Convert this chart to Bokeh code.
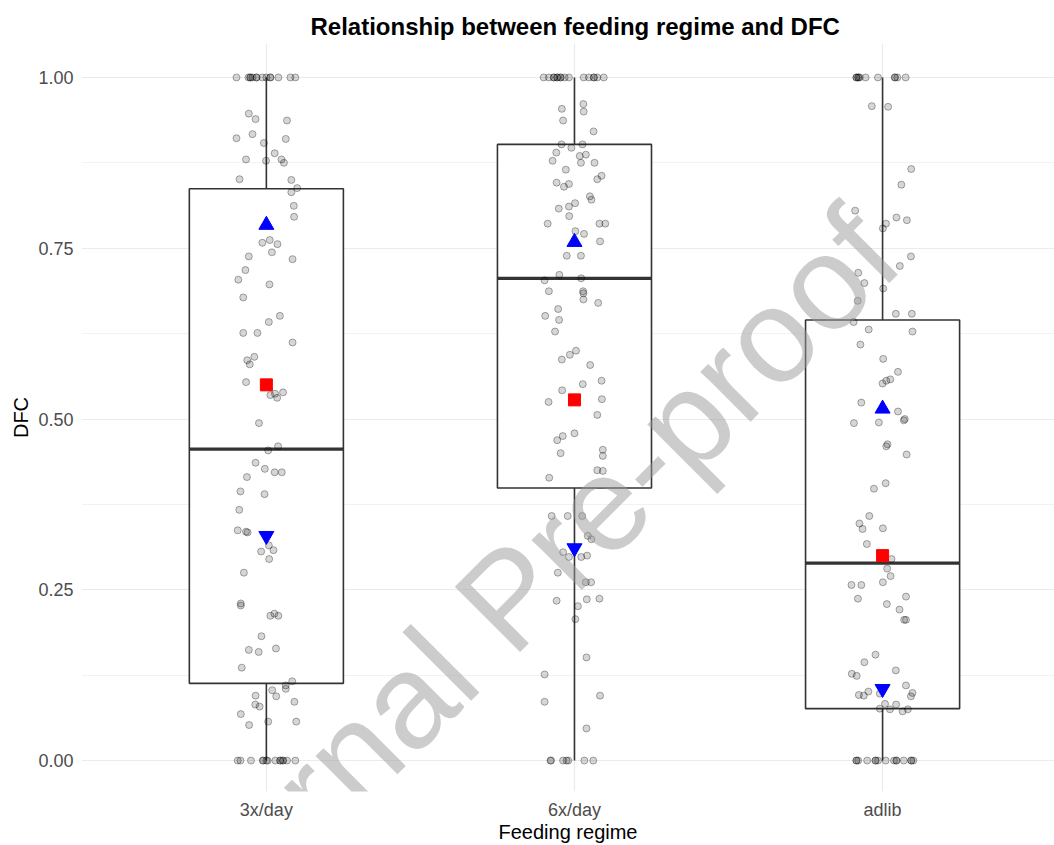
from bokeh.plotting import figure
from bokeh.models import FixedTicker, Label, Range1d, NumeralTickFormatter, Title
from bokeh.embed import file_html
from bokeh.resources import INLINE

# ---------------- data ----------------
categories = ["3x/day", "6x/day", "adlib"]
q1 = [0.113, 0.399, 0.076]
median = [0.456, 0.706, 0.289]
q3 = [0.837, 0.902, 0.645]
whisker_low = [0.0, 0.0, 0.0]
whisker_high = [1.0, 1.0, 1.0]
mean_val = [0.550, 0.528, 0.300]
upper_val = [0.784, 0.759, 0.515]
lower_val = [0.329, 0.311, 0.105]

y_ticks = [0.0, 0.25, 0.5, 0.75, 1.0]
y_minor = [0.125, 0.375, 0.625, 0.875]

# jittered observations: horizontal jitter (category units) and DFC value
jit_3x_dx = [-0.097, -0.058, -0.052, -0.045, -0.032, -0.013, 0.0, 0.013, 0.039, 0.078, 0.094,
             -0.052, -0.032, 0.013,
             -0.057, -0.035, 0.067, -0.097, -0.045, 0.063, -0.008, 0.027, -0.066, -0.001, 0.049,
             0.057, -0.087, 0.081, 0.100, 0.081, 0.089, 0.090, -0.013, 0.011, 0.036, 0.018,
             -0.057, 0.085, -0.068, -0.091, 0.010, -0.075, 0.044, 0.008, -0.075, -0.029, 0.085,
             -0.039, -0.062, -0.054, -0.066, 0.013, 0.035, 0.054, 0.028,
             -0.024, 0.038, 0.006, -0.035, -0.005, 0.027, 0.050, -0.063, -0.084, -0.006, -0.088,
             -0.093, -0.066, -0.061, 0.008, -0.017, 0.023, 0.009, -0.073, -0.083, -0.083, 0.013,
             0.026, 0.039, -0.016, -0.057, -0.025, 0.031, -0.080, 0.084, 0.063, 0.063, 0.019,
             -0.035, 0.032, -0.036, -0.022, 0.091, -0.083, 0.006, 0.097, -0.056,
             -0.093, -0.084, -0.050, -0.011, 0.0, 0.004, 0.029, 0.045, 0.054, 0.067, 0.094,
             -0.011, 0.045, 0.054]
jit_3x_y = [1.0] * 14 + \
           [0.947, 0.939, 0.937, 0.911, 0.917, 0.910, 0.904, 0.889, 0.880, 0.878, 0.880,
            0.875, 0.851, 0.850, 0.838, 0.832, 0.812, 0.796, 0.758, 0.762, 0.756, 0.744,
            0.738, 0.734, 0.718, 0.704, 0.697, 0.678, 0.651, 0.642, 0.626, 0.626, 0.612,
            0.591, 0.586, 0.580, 0.554, 0.535, 0.531, 0.539, 0.537,
            0.494, 0.460, 0.454, 0.436, 0.427, 0.422, 0.422, 0.415, 0.394, 0.390, 0.367,
            0.337, 0.335, 0.334, 0.315, 0.306, 0.308, 0.295, 0.275, 0.230, 0.227, 0.212,
            0.215, 0.212, 0.182, 0.162, 0.159, 0.164, 0.136, 0.116, 0.110, 0.105, 0.103,
            0.095, 0.094, 0.082, 0.079, 0.086, 0.068, 0.057, 0.057, 0.052] + \
           [0.0] * 14

jit_6x_dx = [-0.100, -0.083, -0.067, -0.056, -0.045, -0.032, -0.018, 0.030, 0.047, 0.063, 0.074, 0.095,
             -0.067, -0.056, -0.045, 0.063,
             0.029, -0.041, 0.030, -0.037, 0.062, -0.042, -0.010, 0.026, -0.059, 0.017, 0.037,
             -0.071, 0.021, 0.065, -0.028, 0.088, 0.074, -0.058, -0.034, -0.018, 0.050, 0.055,
             -0.051, -0.018, 0.002, -0.017, -0.087, 0.081, 0.100, 0.003, 0.031, 0.083, -0.025,
             0.021, -0.049, -0.097, 0.022, -0.083, 0.028, 0.029, 0.029, 0.077, -0.053, -0.095,
             -0.050, -0.063, 0.005, -0.015, -0.041, 0.051, 0.088, 0.027, -0.040, -0.084, 0.089,
             0.074, -0.056, -0.038, 0.0, -0.045, 0.092, 0.092, 0.074, 0.092, -0.082, -0.074,
             -0.022, 0.025, 0.043, 0.055, -0.037, -0.018, 0.022, 0.041, -0.054, 0.037, 0.054,
             -0.058, 0.040, 0.081, 0.011, 0.003, 0.039, -0.097, 0.083, -0.097, 0.039,
             -0.078, -0.076, -0.037, -0.026, -0.020, 0.032, 0.061]
jit_6x_y = [1.0] * 16 + \
           [0.961, 0.954, 0.950, 0.937, 0.921, 0.902, 0.897, 0.902, 0.890, 0.885, 0.887,
            0.878, 0.875, 0.875, 0.865, 0.856, 0.851, 0.846, 0.840, 0.844, 0.826, 0.821,
            0.808, 0.811, 0.816, 0.797, 0.786, 0.786, 0.786, 0.775, 0.771, 0.760, 0.739,
            0.739, 0.711, 0.703, 0.706, 0.687, 0.687, 0.684, 0.675, 0.670, 0.661, 0.651,
            0.645, 0.628, 0.600, 0.594, 0.587, 0.579, 0.556, 0.551, 0.542, 0.525, 0.529,
            0.506, 0.469, 0.475, 0.479, 0.450, 0.455, 0.446, 0.425, 0.424, 0.414, 0.358,
            0.358, 0.358, 0.329, 0.324, 0.305, 0.298, 0.298, 0.300, 0.275, 0.261, 0.261,
            0.234, 0.236, 0.237, 0.226, 0.207, 0.151, 0.126, 0.095, 0.086, 0.047] + \
           [0.0] * 7

jit_adlib_dx = [-0.085, -0.079, -0.074, -0.055, -0.015, 0.040, 0.048, 0.075,
                -0.085, -0.079, 0.040,
                -0.035, 0.018, 0.093, 0.061, -0.089, 0.045, 0.079, 0.011, 0.001, 0.092, 0.056,
                -0.079, -0.059, 0.002, -0.081, 0.043, 0.095, -0.094, -0.045, 0.097, -0.072,
                0.002, 0.050, 0.025, 0.012, 0.0, -0.069,
                0.050, -0.093, -0.012, 0.069, 0.072, 0.016, 0.012, 0.078, 0.010, -0.028, -0.043,
                -0.075, -0.065, 0.001, -0.051, 0.029, 0.015, 0.026, 0.001, -0.101, -0.069, 0.076,
                -0.080, 0.014, 0.055, 0.070, 0.076, -0.023, -0.059, 0.043, -0.100, -0.084, 0.076,
                -0.046, -0.077, -0.061, -0.009, 0.097, 0.092, 0.008, 0.044, -0.009, 0.024, 0.065,
                0.082,
                -0.085, -0.079, -0.050, -0.023, -0.015, 0.010, 0.037, 0.045, 0.069, 0.093, 0.100,
                -0.085, -0.023, 0.045, 0.093]
jit_adlib_y = [1.0] * 11 + \
              [0.958, 0.957, 0.866, 0.843, 0.805, 0.795, 0.791, 0.786, 0.779, 0.738, 0.724,
               0.714, 0.699, 0.691, 0.673, 0.654, 0.654, 0.642, 0.631, 0.628, 0.609,
               0.588, 0.569, 0.558, 0.556, 0.552, 0.524,
               0.511, 0.494, 0.495, 0.498, 0.500, 0.463, 0.460, 0.448, 0.406, 0.398, 0.358,
               0.347, 0.339, 0.340, 0.317, 0.295, 0.281, 0.270, 0.261, 0.257, 0.257, 0.240,
               0.237, 0.229, 0.221, 0.206, 0.206, 0.155, 0.144, 0.132, 0.127, 0.124, 0.110,
               0.101, 0.096, 0.095, 0.098, 0.099, 0.094, 0.083, 0.082, 0.076, 0.075, 0.072,
               0.075] + \
              [0.0] * 15

title_text = "Relationship between feeding regime and DFC"
x_title = "Feeding regime"
y_title = "DFC"
watermark_text = "Journal Pre-proof"

# ---------------- figure ----------------
FONT = "Liberation Sans"
xpos = [i + 1 for i in range(len(categories))]
half = 0.25

p = figure(width=1054, height=845,
           x_range=Range1d(0.4, 3.558), y_range=Range1d(-0.0453, 1.0497),
           toolbar_location=None, output_backend="svg",
           min_border_left=81, min_border_right=0, min_border_top=43, min_border_bottom=53)
p.outline_line_color = None
p.background_fill_color = "white"
p.border_fill_color = "white"

p.add_layout(Title(text=title_text, align="left", offset=229, standoff=7,
                   text_font=FONT, text_font_size="24px", text_font_style="bold",
                   text_color="black"), "above")

# grids
p.ygrid.ticker = FixedTicker(ticks=y_ticks, minor_ticks=y_minor)
p.yaxis.ticker = FixedTicker(ticks=y_ticks, minor_ticks=y_minor)
p.ygrid.grid_line_color = "#EBEBEB"
p.ygrid.grid_line_width = 1.2
p.ygrid.minor_grid_line_color = "#F0F0F0"
p.ygrid.minor_grid_line_width = 0.9
p.xaxis.ticker = FixedTicker(ticks=xpos)
p.xgrid.ticker = FixedTicker(ticks=xpos)
p.xgrid.grid_line_color = "#EBEBEB"
p.xgrid.grid_line_width = 1.2

# axes
for ax in (p.xaxis[0], p.yaxis[0]):
    ax.axis_line_color = None
    ax.major_tick_line_color = None
    ax.minor_tick_line_color = None
    ax.major_tick_out = 0
    ax.major_tick_in = 0
    ax.minor_tick_out = 0
    ax.minor_tick_in = 0
    ax.major_label_text_font = FONT
    ax.major_label_text_font_size = "18px"
    ax.major_label_text_color = "#4D4D4D"
    ax.axis_label_text_font = FONT
    ax.axis_label_text_font_size = "20px"
    ax.axis_label_text_font_style = "normal"
    ax.axis_label_text_color = "black"
p.yaxis.formatter = NumeralTickFormatter(format="0.00")
p.yaxis.axis_label = y_title
p.yaxis.major_label_standoff = 8
p.yaxis.axis_label_standoff = 3
p.xaxis.major_label_overrides = {xp: c for xp, c in zip(xpos, categories)}
p.xaxis.axis_label = x_title
p.xaxis.major_label_standoff = 8
p.xaxis.axis_label_standoff = -2

# boxes
box_color = "#333333"
p.segment(x0=xpos, y0=q3, x1=xpos, y1=whisker_high, line_color=box_color, line_width=1.6)
p.segment(x0=xpos, y0=whisker_low, x1=xpos, y1=q1, line_color=box_color, line_width=1.6)
p.quad(left=[x - half for x in xpos], right=[x + half for x in xpos], bottom=q1, top=q3,
       fill_color="white", line_color=box_color, line_width=1.6)
p.segment(x0=[x - half for x in xpos], y0=median, x1=[x + half for x in xpos], y1=median,
          line_color=box_color, line_width=3.2)

# jittered points
for xp, dxs, ys in zip(xpos, [jit_3x_dx, jit_6x_dx, jit_adlib_dx],
                       [jit_3x_y, jit_6x_y, jit_adlib_y]):
    p.scatter(x=[xp + d for d in dxs], y=ys, size=7, marker="circle",
              fill_color="black", fill_alpha=0.16, line_color="black", line_alpha=0.32,
              line_width=1)

# summary markers
p.scatter(x=xpos, y=mean_val, marker="square", size=12, fill_color="#FF0000", line_color="#FF0000")
p.scatter(x=xpos, y=upper_val, marker="triangle", size=15, fill_color="#0000FF", line_color="#0000FF")
p.scatter(x=xpos, y=lower_val, marker="inverted_triangle", size=15, fill_color="#0000FF",
          line_color="#0000FF")

# watermark
p.add_layout(Label(x=1.785, y=0.238, text=watermark_text, angle=0.785, text_align="center",
                   text_baseline="middle", text_font=FONT, text_font_size="134px",
                   text_color="#999999", text_alpha=0.5))

open("out.html", "w").write(file_html(p, INLINE))
